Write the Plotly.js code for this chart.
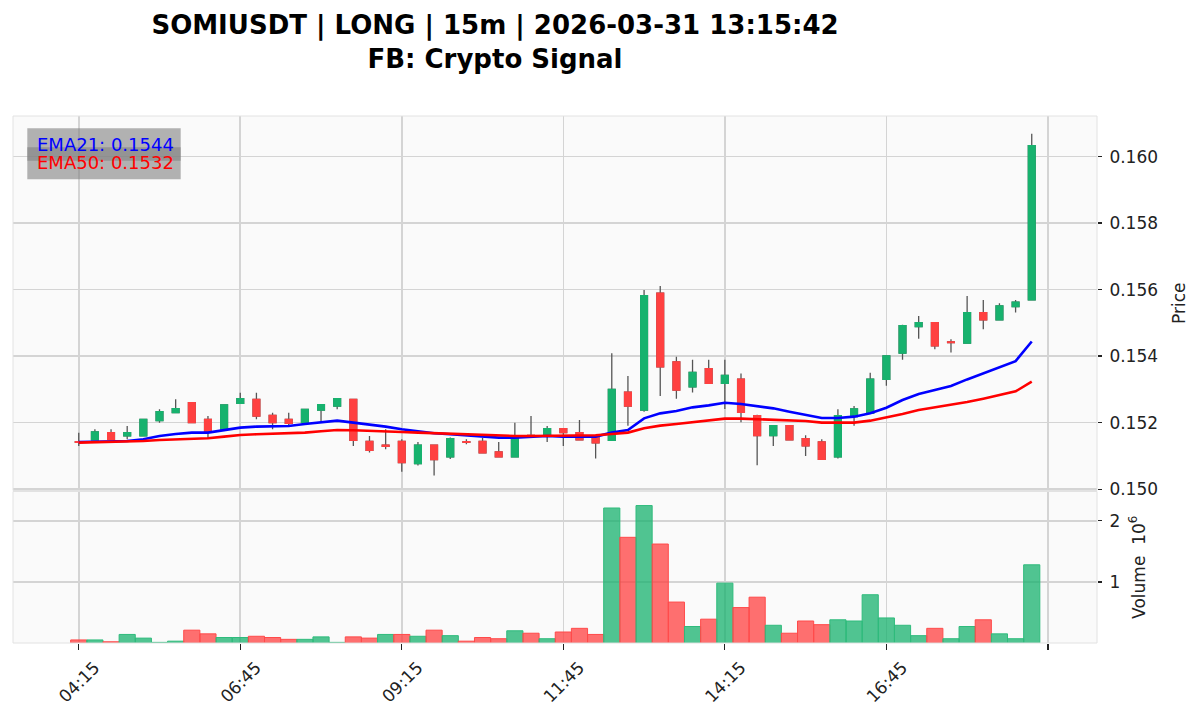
<!DOCTYPE html>
<html>
<head>
<meta charset="utf-8">
<script src="https://cdn.plot.ly/plotly-3.0.1.min.js"></script>
<style>html,body{margin:0;padding:0;background:#fff;}#chart{width:1200px;height:719px;}</style>
</head>
<body>
<div id="chart"></div>
<script>
// ---- data ----
const times = ["04:15","04:30","04:45","05:00","05:15","05:30","05:45","06:00","06:15","06:30",
"06:45","07:00","07:15","07:30","07:45","08:00","08:15","08:30","08:45","09:00",
"09:15","09:30","09:45","10:00","10:15","10:30","10:45","11:00","11:15","11:30",
"11:45","12:00","12:15","12:30","12:45","13:00","13:15","13:30","13:45","14:00",
"14:15","14:30","14:45","15:00","15:15","15:30","15:45","16:00","16:15","16:30",
"16:45","17:00","17:15","17:30","17:45","18:00","18:15","18:30","18:45","19:00"];

const opens = [0.15143,0.15148,0.15170,0.15160,0.15160,0.15206,0.15230,0.15260,0.15210,0.15180,
0.15258,0.15270,0.15222,0.15210,0.15200,0.15238,0.15250,0.15270,0.15144,0.15132,
0.15144,0.15077,0.15132,0.15097,0.15143,0.15144,0.15112,0.15097,0.15162,0.15163,
0.15182,0.15170,0.15158,0.15147,0.15292,0.15238,0.15589,0.15383,0.15308,0.15362,
0.15318,0.15331,0.15221,0.15161,0.15191,0.15152,0.15142,0.15097,0.15218,0.15228,
0.15330,0.15409,0.15489,0.15501,0.15443,0.15439,0.15531,0.15509,0.15549,0.15569];
const highs = [0.15170,0.15180,0.15180,0.15190,0.15212,0.15240,0.15270,0.15262,0.15220,0.15253,
0.15290,0.15290,0.15230,0.15230,0.15242,0.15256,0.15274,0.15272,0.15160,0.15180,
0.15150,0.15142,0.15134,0.15155,0.15150,0.15154,0.15142,0.15200,0.15220,0.15190,
0.15184,0.15208,0.15160,0.15409,0.15340,0.15599,0.15611,0.15398,0.15389,0.15389,
0.15389,0.15348,0.15224,0.15193,0.15193,0.15162,0.15150,0.15240,0.15250,0.15350,
0.15403,0.15494,0.15521,0.15503,0.15451,0.15581,0.15569,0.15559,0.15569,0.16069];
const lows = [0.15130,0.15146,0.15148,0.15150,0.15158,0.15200,0.15228,0.15200,0.15153,0.15178,
0.15256,0.15210,0.15180,0.15190,0.15198,0.15203,0.15240,0.15130,0.15110,0.15120,
0.15052,0.15071,0.15041,0.15091,0.15135,0.15108,0.15096,0.15096,0.15158,0.15142,
0.15130,0.15147,0.15092,0.15145,0.15191,0.15233,0.15280,0.15272,0.15291,0.15316,
0.15241,0.15201,0.15072,0.15130,0.15146,0.15100,0.15088,0.15092,0.15191,0.15226,
0.15311,0.15389,0.15452,0.15421,0.15411,0.15437,0.15481,0.15507,0.15531,0.15567];
const closes = [0.15141,0.15172,0.15150,0.15170,0.15210,0.15233,0.15242,0.15200,0.15173,0.15253,
0.15272,0.15220,0.15200,0.15198,0.15240,0.15254,0.15272,0.15147,0.15117,0.15129,
0.15080,0.15132,0.15089,0.15152,0.15141,0.15109,0.15097,0.15161,0.15160,0.15182,
0.15170,0.15148,0.15139,0.15300,0.15250,0.15582,0.15368,0.15298,0.15351,0.15318,
0.15342,0.15231,0.15161,0.15191,0.15148,0.15130,0.15090,0.15221,0.15241,0.15331,
0.15401,0.15492,0.15501,0.15431,0.15441,0.15531,0.15509,0.15551,0.15562,0.16033];

// volume in millions (axis is labelled x10^6)
const volumes = [0.05,0.05,0.02,0.14,0.08,0.01,0.03,0.21,0.15,0.09,
0.09,0.11,0.09,0.06,0.06,0.10,0.01,0.10,0.08,0.14,
0.14,0.11,0.21,0.12,0.03,0.09,0.07,0.20,0.16,0.07,
0.18,0.24,0.14,2.21,1.73,2.25,1.62,0.67,0.27,0.39,
0.98,0.58,0.75,0.29,0.16,0.36,0.30,0.38,0.36,0.79,
0.41,0.29,0.12,0.24,0.07,0.27,0.38,0.15,0.07,1.28];

const ema21 = [0.15142,0.15143,0.15144,0.15145,0.15150,0.15160,0.15166,0.15170,0.15170,0.15178,
0.15185,0.15188,0.15188,0.15190,0.15196,0.15200,0.15206,0.15200,0.15195,0.15188,
0.15180,0.15173,0.15168,0.15165,0.15162,0.15160,0.15155,0.15155,0.15158,0.15160,
0.15158,0.15158,0.15158,0.15170,0.15178,0.15213,0.15228,0.15235,0.15246,0.15252,
0.15260,0.15256,0.15250,0.15243,0.15233,0.15223,0.15214,0.15214,0.15218,0.15228,
0.15245,0.15268,0.15286,0.15298,0.15310,0.15330,0.15348,0.15367,0.15385,0.15444];
const ema50 = [0.15140,0.15141,0.15142,0.15144,0.15145,0.15148,0.15150,0.15152,0.15153,0.15158,
0.15163,0.15165,0.15166,0.15168,0.15170,0.15174,0.15178,0.15177,0.15176,0.15174,
0.15172,0.15170,0.15168,0.15167,0.15166,0.15164,0.15160,0.15160,0.15160,0.15160,
0.15162,0.15162,0.15162,0.15166,0.15170,0.15183,0.15191,0.15196,0.15202,0.15206,
0.15212,0.15212,0.15210,0.15208,0.15207,0.15205,0.15200,0.15200,0.15200,0.15206,
0.15215,0.15226,0.15238,0.15246,0.15252,0.15262,0.15272,0.15283,0.15294,0.15323];

const priceTicks = [0.150,0.152,0.154,0.156,0.158,0.160];
const volTicks = [1,2];
const xTickIdx = [0,10,20,30,40,50,60];

// ---- styling ----
const UP = '#17b26e', DOWN = '#ff4040';
const UPV = 'rgba(23,178,110,0.75)', DOWNV = 'rgba(255,64,64,0.75)';
const FONT = 'DejaVu Sans';

const idx = times.map((t,i)=>i);
const bodyHi = opens.map((o,i)=>Math.max(o,closes[i]));
const bodyLo = opens.map((o,i)=>Math.min(o,closes[i]));
const volUp = closes.map((c,i)=> i===0 ? c>opens[0] : c>closes[i-1]);

const traces = [
  { type:'candlestick', x:idx, open:opens, high:highs, low:lows, close:closes,
    xaxis:'x', yaxis:'y', showlegend:false, hoverinfo:'skip',
    increasing:{line:{color:'#555555',width:1.3}, fillcolor:'#555555'},
    decreasing:{line:{color:'#555555',width:1.3}, fillcolor:'#555555'}, whiskerwidth:0 },
  { type:'candlestick', x:idx, open:opens, high:bodyHi, low:bodyLo, close:closes,
    xaxis:'x', yaxis:'y', showlegend:false, hoverinfo:'skip',
    increasing:{line:{color:UP,width:1.3}, fillcolor:UP},
    decreasing:{line:{color:DOWN,width:1.3}, fillcolor:DOWN}, whiskerwidth:0 },
  { type:'scatter', mode:'lines', x:idx, y:ema21, xaxis:'x', yaxis:'y',
    line:{color:'#0000ff', width:2.6}, showlegend:false, hoverinfo:'skip' },
  { type:'scatter', mode:'lines', x:idx, y:ema50, xaxis:'x', yaxis:'y',
    line:{color:'#ff0000', width:2.6}, showlegend:false, hoverinfo:'skip' },
  { type:'bar', x:idx, y:volumes, xaxis:'x', yaxis:'y2', width:1,
    marker:{color: volUp.map(u=>u?UPV:DOWNV),
            line:{color: volUp.map(u=>u?'#2fbb7c':'#ff4a4a'), width:1}},
    showlegend:false, hoverinfo:'skip' }
];

const PL=13, PR=1097, PT=116, PB=643;
const px2x = p => (p-PL)/(PR-PL);
const px2y = p => (PB-p)/(PB-PT);
const priceDom = [px2y(490.5), 1];
const volDom = [0, px2y(491.5)];

const layout = {
  width:1200, height:719,
  margin:{l:PL, r:1200-PR, t:PT, b:719-PB, pad:0},
  paper_bgcolor:'#ffffff', plot_bgcolor:'#fafafa',
  font:{family:FONT, size:17, color:'#222222'},
  hovermode:false, showlegend:false,
  boxmode:'overlay', boxgap:0.4, bargap:0,
  title:{text:'SOMIUSDT | LONG | 15m | 2026-03-31 13:15:42<br>FB: Crypto Signal',
         xref:'container', x:495/1200, xanchor:'center',
         yref:'container', y:1-34/719, yanchor:'top',
         font:{family:FONT, size:26, weight:700, color:'#000000'}},
  xaxis:{ anchor:'y2', range:[-4.07, 63.04], rangeslider:{visible:false},
          tickvals:xTickIdx, ticktext:xTickIdx.map(i=>times[i]||' '),
          tickangle:-45, ticks:'outside', ticklen:6, tickwidth:1.3, tickcolor:'#222',
          ticklabelshift:16, ticklabelstandoff:1,
          showgrid:true, gridcolor:'#d4d4d4', gridwidth:1.6, zeroline:false,
          showline:false, tickfont:{size:17} },
  yaxis:{ domain:priceDom, side:'right', anchor:'x', range:[0.14996, 0.16122],
          tickvals:priceTicks, ticktext:priceTicks.map(v=>v.toFixed(3)),
          ticks:'outside', ticklen:4, tickwidth:1.3, tickcolor:'#222', ticklabelstandoff:4,
          showgrid:true, gridcolor:'#d4d4d4', gridwidth:1.6, zeroline:false,
          title:{text:'Price', standoff:16, font:{size:17}} },
  yaxis2:{ domain:volDom, side:'right', anchor:'x', range:[0, 2.48],
          tickvals:volTicks, ticktext:volTicks.map(String),
          ticks:'outside', ticklen:4, tickwidth:1.3, tickcolor:'#222', ticklabelstandoff:4,
          showgrid:true, gridcolor:'#d4d4d4', gridwidth:1.6, zeroline:false,
          title:{text:'Volume  10<sup>6</sup>', standoff:13, font:{size:17}} },
  shapes:[
    {type:'rect', xref:'paper', yref:'paper', x0:0, x1:1, y0:priceDom[0], y1:1,
     line:{color:'#e2e2e2', width:1}, fillcolor:'rgba(0,0,0,0)', layer:'above'},
    {type:'rect', xref:'paper', yref:'paper', x0:0, x1:1, y0:0, y1:volDom[1],
     line:{color:'#e2e2e2', width:1}, fillcolor:'rgba(0,0,0,0)', layer:'above'},
    {type:'rect', xref:'paper', yref:'paper', x0:px2x(27.3), x1:px2x(180.7), y0:px2y(160.7), y1:px2y(128.3),
     line:{width:0}, fillcolor:'rgba(128,128,128,0.6)', layer:'above'},
    {type:'rect', xref:'paper', yref:'paper', x0:px2x(27.3), x1:px2x(180.7), y0:px2y(179.3), y1:px2y(147.3),
     line:{width:0}, fillcolor:'rgba(128,128,128,0.6)', layer:'above'}
  ],
  annotations:[
    {xref:'paper', yref:'paper', x:px2x(35), y:px2y(144), xanchor:'left', yanchor:'middle',
     showarrow:false, text:'EMA21: '+ema21[ema21.length-1].toFixed(4), font:{size:18, color:'#0000ff'}},
    {xref:'paper', yref:'paper', x:px2x(35), y:px2y(162), xanchor:'left', yanchor:'middle',
     showarrow:false, text:'EMA50: '+ema50[ema50.length-1].toFixed(4), font:{size:18, color:'#ff0000'}}
  ]
};

Plotly.newPlot('chart', traces, layout, {displayModeBar:false, staticPlot:true});
</script>
</body>
</html>
